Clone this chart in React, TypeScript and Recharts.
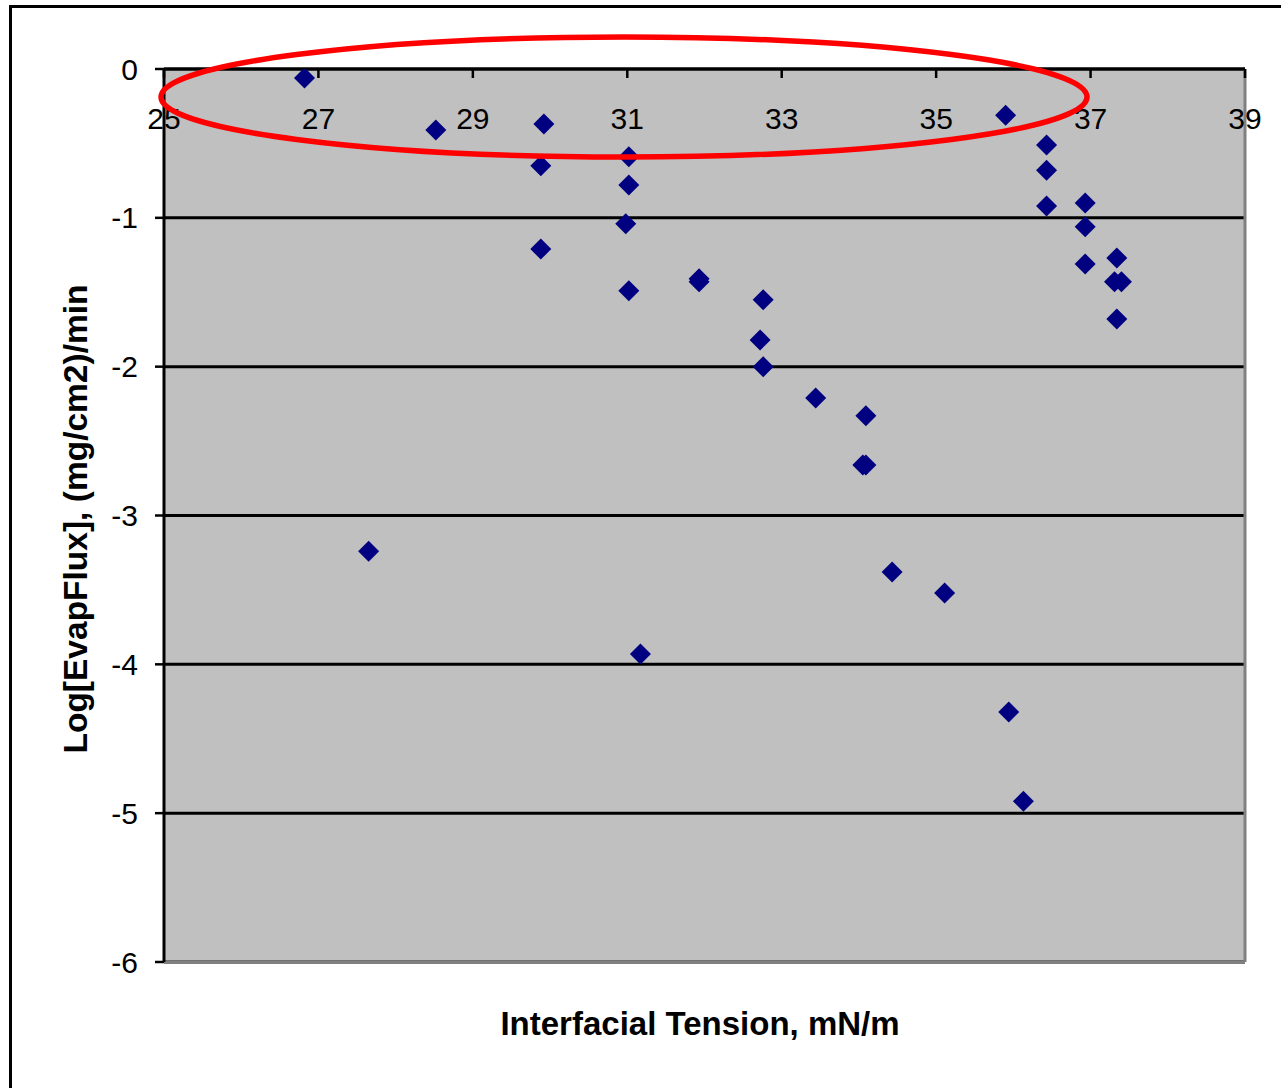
import {
  ScatterChart,
  Scatter,
  XAxis,
  YAxis,
  CartesianGrid,
  ReferenceLine,
} from 'recharts';

// interfacial tension (mN/m) of each sample
const tension = [
  26.82, 27.65, 28.52, 29.92, 29.88, 29.88, 31.02, 31.02, 30.98, 31.02,
  31.17, 31.93, 31.93, 32.76, 32.72, 32.76, 33.44, 34.09, 34.05, 34.09,
  34.43, 35.11, 35.9, 35.94, 36.13, 36.43, 36.43, 36.43, 36.93, 36.93,
  36.93, 37.34, 37.31, 37.4, 37.34,
];

// log10 of evaporative flux, (mg/cm2)/min
const logFlux = [
  -0.06, -3.24, -0.41, -0.37, -0.65, -1.21, -0.59, -0.78, -1.04, -1.49,
  -3.93, -1.41, -1.43, -1.55, -1.82, -2.0, -2.21, -2.33, -2.66, -2.66,
  -3.38, -3.52, -0.31, -4.32, -4.92, -0.51, -0.68, -0.92, -0.9, -1.06,
  -1.31, -1.27, -1.43, -1.43, -1.68,
];

const xTicks = [25, 27, 29, 31, 33, 35, 37, 39];
const yTicks = [0, -1, -2, -3, -4, -5, -6];

const points = tension.map((t, i) => ({ x: t, y: logFlux[i] }));

const FONT = '"Liberation Sans", Arial, sans-serif';

// navy diamond marker
// eslint-disable-next-line @typescript-eslint/no-explicit-any
function Diamond(props: any) {
  const { cx, cy } = props;
  const r = 10.5;
  return (
    <polygon
      points={`${cx},${cy - r} ${cx + r},${cy} ${cx},${cy + r} ${cx - r},${cy}`}
      fill="#000080"
    />
  );
}

// top axis: tick marks point down into the plot, labels sit under them
// eslint-disable-next-line @typescript-eslint/no-explicit-any
function TopTick(props: any) {
  const { x, y, payload } = props;
  const axisY = y + 8;
  return (
    <g>
      <line x1={x} y1={axisY} x2={x} y2={axisY + 9} stroke="#000" strokeWidth={2.5} />
      <text
        x={x}
        y={axisY + 60}
        textAnchor="middle"
        fontSize={30}
        fontFamily={FONT}
        fill="#000"
      >
        {payload.value}
      </text>
    </g>
  );
}

export default function App() {
  return (
    <div
      style={{
        position: 'absolute',
        left: 0,
        top: 0,
        width: 1281,
        height: 1088,
        background: '#fff',
        overflow: 'hidden',
      }}
    >
      <ScatterChart
        width={1281}
        height={1088}
        margin={{ top: 19, right: 36, bottom: 126, left: 0 }}
      >
        <CartesianGrid
          vertical={false}
          stroke="#000"
          strokeWidth={3}
          fill="#C0C0C0"
          fillOpacity={1}
        />
        <XAxis
          xAxisId={0}
          type="number"
          dataKey="x"
          orientation="top"
          domain={[25, 39]}
          ticks={xTicks}
          height={50}
          tickSize={8}
          tickMargin={0}
          tickLine={false}
          axisLine={{ stroke: '#000', strokeWidth: 3 }}
          tick={<TopTick />}
          interval={0}
          allowDataOverflow
        />
        <YAxis
          yAxisId={0}
          type="number"
          dataKey="y"
          domain={[-6, 0]}
          ticks={yTicks}
          width={164}
          tickSize={9}
          tickMargin={17}
          interval={0}
          axisLine={{ stroke: '#000', strokeWidth: 3 }}
          tickLine={{ stroke: '#000', strokeWidth: 2.5 }}
          tick={{ fontSize: 30, fontFamily: FONT, fill: '#000' }}
          allowDataOverflow
        />
        <ReferenceLine y={-6} stroke="#808080" strokeWidth={3} />
        <ReferenceLine x={39} stroke="#808080" strokeWidth={3} />
        <Scatter data={points} shape={<Diamond />} isAnimationActive={false} />
      </ScatterChart>

      <svg
        width={1281}
        height={1088}
        style={{ position: 'absolute', left: 0, top: 0, pointerEvents: 'none' }}
      >
        <rect x={10.5} y={6.5} width={1300} height={1100} fill="none" stroke="#000" strokeWidth={3} />
        <ellipse cx={624} cy={97} rx={463} ry={60} fill="none" stroke="#FF0000" strokeWidth={5.5} />
        <text
          x={700}
          y={1035}
          textAnchor="middle"
          fontSize={33}
          fontWeight="bold"
          fontFamily={FONT}
          fill="#000"
        >
          Interfacial Tension, mN/m
        </text>
        <text
          x={87}
          y={519}
          transform="rotate(-90 87 519)"
          textAnchor="middle"
          fontSize={33.5}
          fontWeight="bold"
          fontFamily={FONT}
          fill="#000"
        >
          Log[EvapFlux], (mg/cm2)/min
        </text>
      </svg>
    </div>
  );
}
